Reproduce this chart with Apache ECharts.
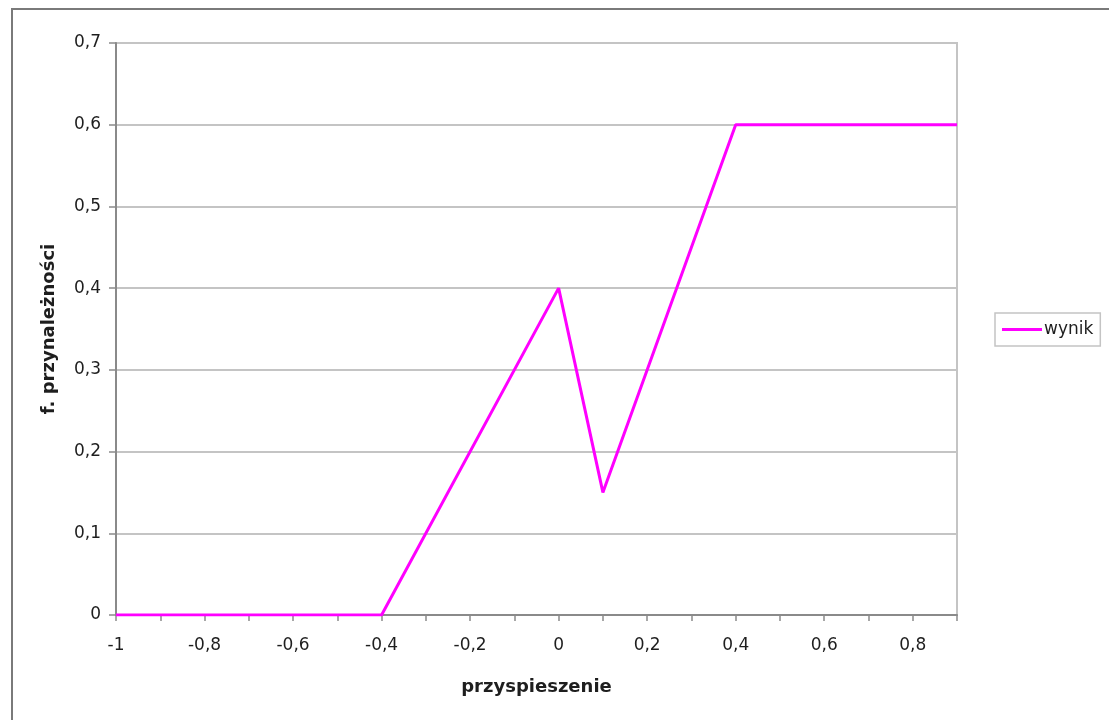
<!DOCTYPE html>
<html>
<head>
<meta charset="utf-8">
<script src="https://cdn.jsdelivr.net/npm/echarts@6/dist/echarts.min.js"></script>
<style>
  html, body { margin: 0; padding: 0; background: #fff; }
  #chart { width: 1109px; height: 720px; }
</style>
</head>
<body>
<div id="chart"></div>
<script>
// Membership function breakpoints: acceleration (x) vs membership degree (y)
const xValues = [-1, -0.4, 0, 0.1, 0.4, 0.9];
const yValues = [0, 0, 0.4, 0.15, 0.6, 0.6];
const seriesName = 'wynik';
const xAxisName = 'przyspieszenie';
const yAxisName = 'f. przynależności';

const points = xValues.map((x, i) => [x, yValues[i]]);
const comma = v => String(+v.toFixed(2)).replace('.', ',');

const chart = echarts.init(document.getElementById('chart'), null, { renderer: 'canvas' });
const font = 'DejaVu Sans, Verdana, sans-serif';
const textColor = '#1e1e1e';

chart.setOption({
  animation: false,
  backgroundColor: '#fff',
  textStyle: { fontFamily: font },
  graphic: [{
    type: 'rect',
    shape: { x: 12, y: 9, width: 1200, height: 800 },
    style: { fill: 'none', stroke: '#7a7a7a', lineWidth: 2 },
    silent: true
  }],
  grid: {
    left: 116, right: 152, top: 43, bottom: 105,
    show: true, borderColor: '#c4c4c4', borderWidth: 2
  },
  legend: {
    left: 995, top: 313,
    data: [seriesName],
    icon: 'rect', itemWidth: 40, itemHeight: 3, itemGap: 0,
    borderColor: '#c4c4c4', borderWidth: 1.5,
    padding: [8, 7, 8, 7],
    textStyle: { fontSize: 17, color: textColor, fontFamily: font, padding: [0, 0, 0, -3] }
  },
  xAxis: {
    type: 'value',
    min: -1, max: 0.9, interval: 0.1,
    name: xAxisName, nameLocation: 'middle', nameGap: 63,
    nameTextStyle: { fontSize: 18, fontWeight: 'bold', color: textColor, fontFamily: font },
    axisLine: { show: true, onZero: false, lineStyle: { color: '#8a8a8a', width: 2 } },
    axisTick: { show: true, length: 6, lineStyle: { color: '#8a8a8a', width: 1.5 } },
    axisLabel: {
      margin: 22, fontSize: 17, color: textColor, fontFamily: font,
      formatter: v => (Math.abs(Math.round(v * 10)) % 2 === 0 ? comma(v) : '')
    },
    splitLine: { show: false }
  },
  yAxis: {
    type: 'value',
    min: 0, max: 0.7, interval: 0.1,
    name: yAxisName, nameLocation: 'middle', nameGap: 58, nameRotate: 90,
    nameTextStyle: { fontSize: 18, fontWeight: 'bold', color: textColor, fontFamily: font },
    axisLine: { show: true, onZero: false, lineStyle: { color: '#8a8a8a', width: 2 } },
    axisTick: { show: true, length: 7, lineStyle: { color: '#8a8a8a', width: 1.5 } },
    axisLabel: { margin: 15, fontSize: 17, color: textColor, fontFamily: font, formatter: v => comma(v) },
    splitLine: { show: true, lineStyle: { color: '#c4c4c4', width: 2 } }
  },
  series: [{
    name: seriesName,
    type: 'line',
    data: points,
    symbol: 'none',
    lineStyle: { color: '#ff00ff', width: 3 },
    itemStyle: { color: '#ff00ff' }
  }]
});
</script>
</body>
</html>
